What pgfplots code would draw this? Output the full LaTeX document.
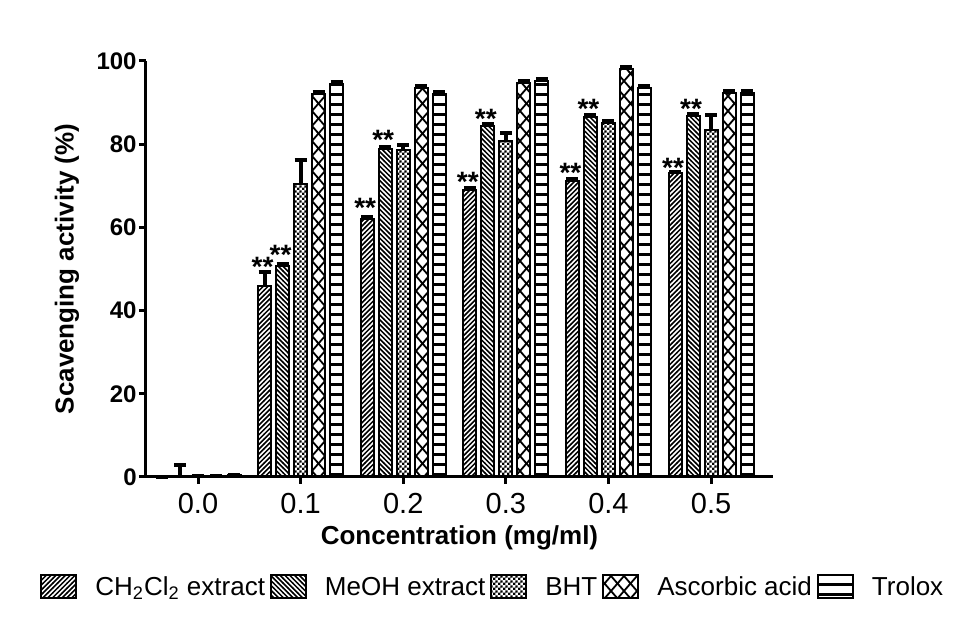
\documentclass[border=0pt]{standalone}
\usepackage{fontspec}
\setmainfont{Liberation Sans}
\usepackage{pgfplots}
\pgfplotsset{compat=1.18}
\usetikzlibrary{patterns}

\pgfdeclarepatternformonly{myne}{\pgfqpoint{-1pt}{-1pt}}{\pgfqpoint{3.4pt}{3.4pt}}{\pgfqpoint{2.4pt}{2.4pt}}{%
  \pgfsetlinewidth{0.75pt}%
  \pgfpathmoveto{\pgfqpoint{-0.1pt}{-0.1pt}}%
  \pgfpathlineto{\pgfqpoint{2.5pt}{2.5pt}}%
  \pgfusepath{stroke}}
\pgfdeclarepatternformonly{mynw}{\pgfqpoint{-1pt}{-1pt}}{\pgfqpoint{3.4pt}{3.4pt}}{\pgfqpoint{2.4pt}{2.4pt}}{%
  \pgfsetlinewidth{0.75pt}%
  \pgfpathmoveto{\pgfqpoint{-0.1pt}{2.5pt}}%
  \pgfpathlineto{\pgfqpoint{2.5pt}{-0.1pt}}%
  \pgfusepath{stroke}}
\pgfdeclarepatternformonly{mychk}{\pgfqpoint{0pt}{0pt}}{\pgfqpoint{2.6pt}{2.6pt}}{\pgfqpoint{2.6pt}{2.6pt}}{%
  \pgfpathrectangle{\pgfqpoint{0pt}{0pt}}{\pgfqpoint{1.3pt}{1.3pt}}%
  \pgfpathrectangle{\pgfqpoint{1.3pt}{1.3pt}}{\pgfqpoint{1.3pt}{1.3pt}}%
  \pgfusepath{fill}}
\pgfdeclarepatternformonly{myx}{\pgfqpoint{-1pt}{-1pt}}{\pgfqpoint{7.5pt}{8.5pt}}{\pgfqpoint{6.5pt}{7.5pt}}{%
  \pgfsetlinewidth{0.9pt}%
  \pgfpathmoveto{\pgfqpoint{-0.2pt}{-0.23pt}}%
  \pgfpathlineto{\pgfqpoint{6.7pt}{7.73pt}}%
  \pgfpathmoveto{\pgfqpoint{-0.2pt}{7.73pt}}%
  \pgfpathlineto{\pgfqpoint{6.7pt}{-0.23pt}}%
  \pgfusepath{stroke}}
\pgfdeclarepatternformonly{myhl}{\pgfqpoint{-0.1pt}{-0.1pt}}{\pgfqpoint{1.1pt}{5pt}}{\pgfqpoint{1pt}{5pt}}{%
  \pgfpathrectangle{\pgfqpoint{-0.1pt}{0pt}}{\pgfqpoint{1.2pt}{1.3pt}}%
  \pgfusepath{fill}}

\begin{document}
\begin{tikzpicture}
\path[use as bounding box] (-73pt,-79.5pt) rectangle (411.5pt,238.5pt);
\begin{axis}[
  at={(0pt,0pt)}, anchor=south west,
  scale only axis, width=313.5pt, height=208pt,
  xmin=-0.507, xmax=5.604, ymin=0, ymax=100,
  axis x line=bottom, axis y line=left,
  axis line style={-, line width=1.5pt},
  clip=false,
  xtick={0,...,5}, xticklabels={0.0,0.1,0.2,0.3,0.4,0.5},
  ytick={0,20,...,100},
  tick align=outside, major tick length=3.5pt,
  tick style={line width=1.5pt, black},
  /pgf/number format/assume math mode=true,
  yticklabel style={font=\bfseries\fontsize{12}{14}\selectfont, inner sep=0pt, anchor=east, xshift=-1pt},
  xticklabel style={font=\fontsize{14.5}{16}\selectfont, inner sep=0pt, anchor=north, yshift=-4.3pt},
  xlabel={Concentration (mg/ml)},
  ylabel={Scavenging activity (\%)},
  every axis x label/.style={at={(axis description cs:0.5,0)}, anchor=center, yshift=-30.5pt, font=\bfseries\fontsize{13}{15}\selectfont},
  every axis y label/.style={at={(axis description cs:0,0.5)}, anchor=center, xshift=-39.5pt, rotate=90, font=\bfseries\fontsize{13}{15}\selectfont},
  ybar, bar width=6.5pt,
  error bars/y dir=plus, error bars/y explicit,
  error bars/error bar style={line width=2pt, black},
  error bars/error mark options={rotate=90, line width=2pt, mark size=3pt, black},
  legend columns=5,
  legend image code/.code={\draw[#1,/tikz/.cd,bar shift=0pt] (0pt,-3.75pt) rectangle (17.5pt,7.75pt);},
  legend style={draw=none, fill=none, at={(axis description cs:0,0)}, anchor=west, xshift=-53pt, yshift=-55.25pt,
    font=\fontsize{13}{15}\selectfont, inner sep=0pt,
    nodes={inner sep=0pt, text height=0.75em, text depth=0.3em},
    /tikz/every odd column/.append style={column sep=9pt},
    /tikz/every even column/.append style={column sep=2.5pt}},
]
% CH2Cl2 extract
\addplot[draw=black, line width=1pt, pattern=myne, bar shift=-18pt] coordinates {
  (0,0) +- (0,0) (1,46) +- (0,3.3) (2,62) +- (0,0.5) (3,69) +- (0,0.5) (4,71.2) +- (0,0.5) (5,73) +- (0,0.4)};
\addlegendentry{CH\textsubscript{2}Cl\textsubscript{2} extract}
% MeOH extract
\addplot[draw=black, line width=1pt, pattern=mynw, bar shift=-9pt] coordinates {
  (0,0.3) +- (0,2.6) (1,50.8) +- (0,0.5) (2,78.8) +- (0,0.5) (3,84.4) +- (0,0.5) (4,86.6) +- (0,0.5) (5,86.8) +- (0,0.5)};
\addlegendentry{MeOH extract}
% BHT
\addplot[draw=black, line width=1pt, pattern=mychk, bar shift=0pt] coordinates {
  (0,0.1) +- (0,0.1) (1,70.5) +- (0,5.6) (2,78.7) +- (0,1.0) (3,80.8) +- (0,1.9) (4,85) +- (0,0.5) (5,83.4) +- (0,3.5)};
\addlegendentry{BHT}
% Ascorbic acid
\addplot[draw=black, line width=1pt, pattern=myx, bar shift=9pt] coordinates {
  (0,0.1) +- (0,0.1) (1,92) +- (0,0.5) (2,93.6) +- (0,0.5) (3,94.8) +- (0,0.5) (4,98) +- (0,0.5) (5,92.4) +- (0,0.5)};
\addlegendentry{Ascorbic acid}
% Trolox
\addplot[draw=black, line width=1pt, pattern=myhl, bar shift=18pt] coordinates {
  (0,0.4) +- (0,0.2) (1,94.4) +- (0,0.5) (2,92) +- (0,0.5) (3,95.2) +- (0,0.5) (4,93.6) +- (0,0.5) (5,92.4) +- (0,0.3)};
\addlegendentry{Trolox}
% significance stars
\addplot[forget plot, draw=none, fill=none, bar shift=-19pt, error bars/y dir=none,
  nodes near coords, point meta=explicit symbolic,
  nodes near coords style={anchor=base, yshift=-5.6pt, inner sep=0pt, font=\bfseries\fontsize{14}{16}\selectfont}]
  coordinates {(1,50.8)[**] (2,65)[**] (3,71.4)[**] (4,73.4)[**] (5,74.8)[**]};
\addplot[forget plot, draw=none, fill=none, bar shift=-10pt, error bars/y dir=none,
  nodes near coords, point meta=explicit symbolic,
  nodes near coords style={anchor=base, yshift=-5.6pt, inner sep=0pt, font=\bfseries\fontsize{14}{16}\selectfont}]
  coordinates {(1,53.8)[**] (2,81.5)[**] (3,86.5)[**] (4,88.9)[**] (5,88.9)[**]};
\end{axis}
\end{tikzpicture}
\end{document}
